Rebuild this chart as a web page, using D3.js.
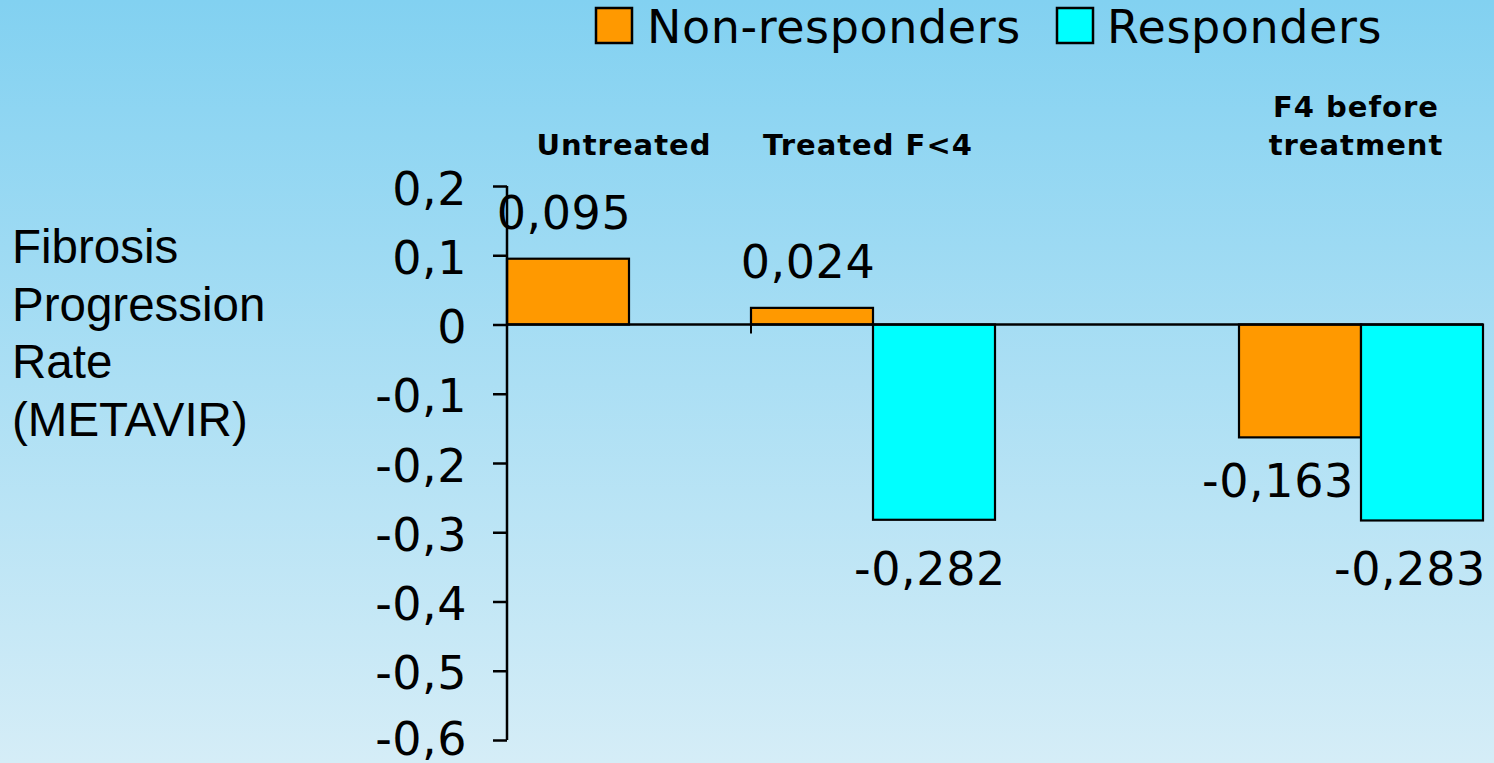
<!DOCTYPE html>
<html>
<head>
<meta charset="utf-8">
<script src="https://cdn.jsdelivr.net/npm/d3@7"></script>
<style>
  html, body { margin: 0; padding: 0; }
  body { width: 1494px; height: 763px; overflow: hidden; }
</style>
</head>
<body>
<svg id="chart" width="1494" height="763"></svg>
<script>
// ---- data ----
const categories = ["Untreated", "Treated F<4", "", "F4 before treatment"];
const categoryLines = [["Untreated"], ["Treated F<4"], [], ["F4 before", "treatment"]];
const seriesNames = ["Non-responders", "Responders"];
const nonResponders = [0.095, 0.024, null, -0.163];
const responders = [null, -0.282, null, -0.283];
const yTicks = [0.2, 0.1, 0, -0.1, -0.2, -0.3, -0.4, -0.5, -0.6];
const yTitleLines = ["Fibrosis", "Progression", "Rate", "(METAVIR)"];

// ---- setup ----
const W = 1494, H = 763;
const svg = d3.select("#chart");
const colors = { "Non-responders": "#FF9900", "Responders": "#00FFFF" };
const fixMinus = s => s.replace("\u2212", "-").replace(".", ",");
const fmt = v => fixMinus(d3.format(".3f")(v));
const fmtTick = v => (v === 0 ? "0" : fixMinus(d3.format(".1f")(v)));

// background gradient
const defs = svg.append("defs");
const grad = defs.append("linearGradient").attr("id", "bg")
  .attr("x1", 0).attr("y1", 0).attr("x2", 0).attr("y2", 1);
grad.append("stop").attr("offset", "0%").attr("stop-color", "#82D1F1");
grad.append("stop").attr("offset", "100%").attr("stop-color", "#D5EDF7");
svg.append("rect").attr("width", W).attr("height", H).attr("fill", "url(#bg)");

// scales
const x = d3.scaleBand().domain(d3.range(categories.length)).range([507, 1483]).padding(0);
const xs = d3.scaleBand().domain(seriesNames).range([0, x.bandwidth()]).padding(0);
const y = d3.scaleLinear().domain([-0.6, 0.2]).range([740, 186]);

const rows = categories.map((c, i) => ({
  i, cat: c,
  vals: [
    { s: "Non-responders", v: nonResponders[i] },
    { s: "Responders", v: responders[i] }
  ]
}));

// bars
const g = svg.append("g");
rows.forEach(r => {
  r.vals.filter(d => d.v !== null).forEach(d => {
    const x0 = x(r.i) + xs(d.s);
    g.append("rect")
      .attr("x", x0)
      .attr("y", Math.min(y(d.v), y(0)))
      .attr("width", xs.bandwidth())
      .attr("height", Math.abs(y(d.v) - y(0)))
      .attr("fill", colors[d.s])
      .attr("stroke", "#000")
      .attr("stroke-width", 2.2);
  });
});

// zero line (category axis)
svg.append("line")
  .attr("x1", x.range()[0]).attr("x2", x.range()[1])
  .attr("y1", y(0)).attr("y2", y(0))
  .attr("stroke", "#000").attr("stroke-width", 2.5);
// category boundary ticks
d3.range(1, categories.length + 1).forEach(k => {
  const xx = x.range()[0] + k * x.step();
  svg.append("line").attr("x1", xx).attr("x2", xx)
    .attr("y1", y(0)).attr("y2", y(0) + 9)
    .attr("stroke", "#000").attr("stroke-width", 2);
});

// y axis
const yAxis = d3.axisLeft(y).tickValues(yTicks).tickFormat(fmtTick).tickSize(14).tickPadding(0);
const ya = svg.append("g").attr("transform", `translate(${x.range()[0]},0)`).call(yAxis);
ya.select(".domain").attr("stroke", "#000").attr("stroke-width", 2.5)
  .attr("d", `M0,${y(0.2)}V${y(-0.6)}`);
ya.selectAll(".tick line").attr("stroke", "#000").attr("stroke-width", 2.5);
ya.selectAll(".tick text")
  .attr("x", -40).attr("dy", null)
  .attr("y", d => (d === -0.6 ? 14 : 18))   // keep the lowest label's comma inside the frame
  .attr("fill", "#000")
  .style("font-family", "'DejaVu Sans', Verdana, sans-serif")
  .style("font-size", "46px")
  .style("letter-spacing", "0.5px");

// data labels
const lab = svg.append("g")
  .style("font-family", "'DejaVu Sans', Verdana, sans-serif")
  .style("font-size", "46px")
  .style("letter-spacing", "0.6px")
  .attr("fill", "#000")
  .attr("text-anchor", "middle");
rows.forEach(r => {
  r.vals.filter(d => d.v !== null).forEach(d => {
    const cx = x(r.i) + xs(d.s) + xs.bandwidth() / 2;
    let nudge = -4;
    // the -0,163 label was pushed left in the original to avoid the neighbouring bar
    if (d.s === "Non-responders" && d.v < 0) nudge = -22;
    if (d.s === "Responders" && r.i === 3) nudge = -12;
    const ty = d.v >= 0 ? y(d.v) - 30 : y(d.v) + (d.s === "Non-responders" ? 60 : 65);
    lab.append("text").attr("x", cx + nudge).attr("y", ty).text(fmt(d.v));
  });
});

// category labels (above plot)
const cl = svg.append("g")
  .style("font-family", "'DejaVu Sans', Verdana, sans-serif")
  .style("font-size", "29px")
  .style("font-weight", "bold")
  .style("letter-spacing", "1px")
  .attr("fill", "#000")
  .attr("text-anchor", "middle");
categoryLines.forEach((lines, i) => {
  const cx = x(i) + x.bandwidth() / 2 - 5;
  lines.forEach((t, j) => {
    cl.append("text").attr("x", cx).attr("y", 155 - (lines.length - 1 - j) * 38).text(t);
  });
});

// legend
const legendItems = [
  { name: "Non-responders", sx: 596, tx: 647 },
  { name: "Responders", sx: 1057, tx: 1107 }
];
const lg = svg.append("g");
legendItems.forEach(it => {
  lg.append("rect").attr("x", it.sx).attr("y", 8).attr("width", 36).attr("height", 35)
    .attr("fill", colors[it.name]).attr("stroke", "#000").attr("stroke-width", 2.5);
  lg.append("text").attr("x", it.tx).attr("y", 43)
    .style("font-family", "'DejaVu Sans', Verdana, sans-serif")
    .style("font-size", "46px")
    .style("letter-spacing", "0.6px")
    .attr("fill", "#000")
    .text(it.name);
});

// y title
const yt = svg.append("g")
  .style("font-family", "'Liberation Sans', Arial, sans-serif")
  .style("font-size", "47.5px")
  .attr("fill", "#000");
yTitleLines.forEach((t, i) => {
  yt.append("text").attr("x", 12).attr("y", 263 + i * 57.5).text(t);
});
</script>
</body>
</html>
